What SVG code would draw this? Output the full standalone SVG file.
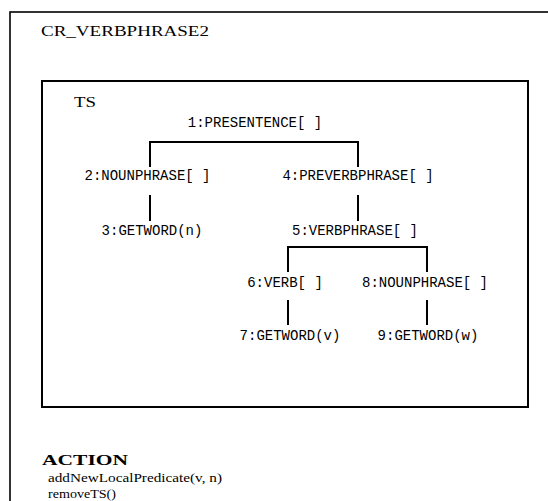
<svg xmlns="http://www.w3.org/2000/svg" width="548" height="501" viewBox="0 0 548 501">
  <style>
    .frame { fill: none; stroke: #000; }
    .serif { font-family: "Liberation Serif", "DejaVu Serif", serif; fill: #000; }
    .mono { font-family: "Liberation Mono", "DejaVu Sans Mono", monospace; font-size: 14px; fill: #000; text-anchor: middle; }
    .edge { fill: none; stroke: #000; stroke-width: 2; }
  </style>
  <rect width="548" height="501" fill="#fff"/>

  <!-- rule frame, open at the right and bottom -->
  <rect class="frame" x="10" y="12" width="560" height="520" stroke-width="1.6"/>
  <text class="serif" x="41" y="36" font-size="15" textLength="168" lengthAdjust="spacingAndGlyphs">CR_VERBPHRASE2</text>

  <!-- tree-structure panel -->
  <rect class="frame" x="42" y="81" width="486" height="326" stroke-width="2"/>
  <text class="serif" x="74" y="107" font-size="15" textLength="22" lengthAdjust="spacingAndGlyphs">TS</text>

  <g id="connectors">
    <path class="edge" d="M150,167 V142 H358 V167"/>
    <path class="edge" d="M150,195 V221"/>
    <path class="edge" d="M358,195 V221"/>
    <path class="edge" d="M288,272 V247 H427 V272"/>
    <path class="edge" d="M288,300 V325"/>
    <path class="edge" d="M427,300 V325"/>
  </g>

  <g id="n1"><text class="mono" x="255" y="127">1:PRESENTENCE[ ]</text></g>
  <g id="n2"><text class="mono" x="147.5" y="180">2:NOUNPHRASE[ ]</text></g>
  <g id="n3"><text class="mono" x="152" y="235">3:GETWORD(n)</text></g>
  <g id="n4"><text class="mono" x="358" y="180">4:PREVERBPHRASE[ ]</text></g>
  <g id="n5"><text class="mono" x="355" y="235">5:VERBPHRASE[ ]</text></g>
  <g id="n6"><text class="mono" x="285" y="287">6:VERB[ ]</text></g>
  <g id="n7"><text class="mono" x="290" y="340">7:GETWORD(v)</text></g>
  <g id="n8"><text class="mono" x="425" y="287">8:NOUNPHRASE[ ]</text></g>
  <g id="n9"><text class="mono" x="428" y="340">9:GETWORD(w)</text></g>

  <!-- action section -->
  <text class="serif" x="42" y="465" font-size="15" font-weight="bold" textLength="86" lengthAdjust="spacingAndGlyphs">ACTION</text>
  <text class="serif" x="48" y="482" font-size="13" textLength="174" lengthAdjust="spacingAndGlyphs">addNewLocalPredicate(v, n)</text>
  <text class="serif" x="48" y="498" font-size="13" textLength="68" lengthAdjust="spacingAndGlyphs">removeTS()</text>
</svg>
